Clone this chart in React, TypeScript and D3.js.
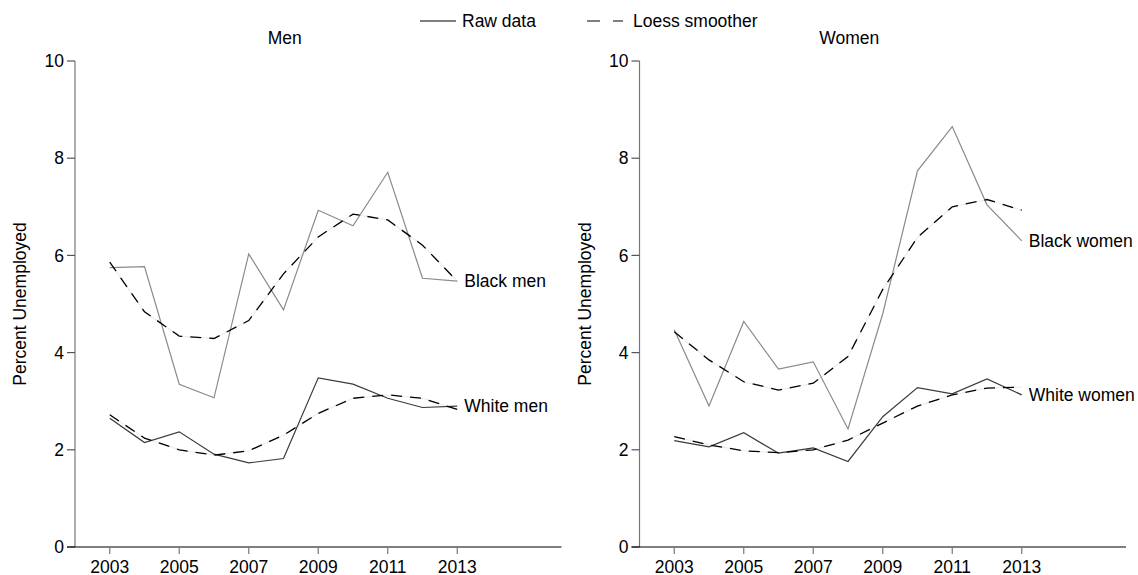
import React, { useEffect, useRef } from 'react';
import * as d3 from 'd3';

// values
const years = [2003, 2004, 2005, 2006, 2007, 2008, 2009, 2010, 2011, 2012, 2013];
const yearTicks = [2003, 2005, 2007, 2009, 2011, 2013];
const pctTicks = [0, 2, 4, 6, 8, 10];

const blackMenRaw = [5.75, 5.77, 3.35, 3.07, 6.03, 4.88, 6.93, 6.61, 7.71, 5.53, 5.47];
const blackMenLoess = [5.86, 4.84, 4.34, 4.29, 4.66, 5.62, 6.38, 6.85, 6.73, 6.21, 5.47];
const whiteMenRaw = [2.65, 2.15, 2.37, 1.91, 1.73, 1.82, 3.48, 3.35, 3.06, 2.87, 2.9];
const whiteMenLoess = [2.72, 2.24, 2.0, 1.89, 1.98, 2.3, 2.75, 3.06, 3.13, 3.06, 2.83];

const blackWomenRaw = [4.47, 2.9, 4.64, 3.66, 3.81, 2.43, 4.8, 7.74, 8.65, 7.04, 6.3];
const blackWomenLoess = [4.43, 3.85, 3.4, 3.23, 3.37, 3.92, 5.3, 6.37, 7.0, 7.15, 6.93];
const whiteWomenRaw = [2.19, 2.06, 2.35, 1.93, 2.04, 1.76, 2.68, 3.28, 3.15, 3.46, 3.13];
const whiteWomenLoess = [2.27, 2.1, 1.98, 1.94, 2.0, 2.2, 2.55, 2.9, 3.13, 3.27, 3.29];

const FONT = '"Liberation Sans", Arial, sans-serif';
const FS = 17.5;

export default function App() {
  const ref = useRef<SVGSVGElement>(null);

  useEffect(() => {
    document.body.style.margin = '0';
    const svg = d3.select(ref.current);
    svg.selectAll('*').remove();

    // left = where the y axis sits, the subgraph starts 75px to the left of it
    const drawPanel = (left: number, title: string, series: any[]) => {
      const x = d3.scaleLinear().domain([2002, 2016]).range([left, left + 486.5]);
      const y = d3.scaleLinear().domain([0, 10]).range([547, 61]);
      const g = svg.append('g');

      // y axis (grey)
      g.append('line')
        .attr('x1', x(2002)).attr('x2', x(2002))
        .attr('y1', y(0)).attr('y2', y(10))
        .attr('stroke', '#777').attr('stroke-width', 1.2);
      pctTicks.forEach((t) => {
        g.append('line')
          .attr('x1', x(2002) - 8).attr('x2', x(2002))
          .attr('y1', y(t)).attr('y2', y(t))
          .attr('stroke', '#555').attr('stroke-width', 1.2);
        g.append('text')
          .attr('x', x(2002) - 11).attr('y', y(t))
          .attr('dy', '0.35em').attr('text-anchor', 'end')
          .text(t);
      });

      // x axis (black)
      g.append('line')
        .attr('x1', x(2002) - 8).attr('x2', x(2016))
        .attr('y1', y(0)).attr('y2', y(0))
        .attr('stroke', '#000').attr('stroke-width', 1.2);
      yearTicks.forEach((t) => {
        g.append('line')
          .attr('x1', x(t)).attr('x2', x(t))
          .attr('y1', y(0)).attr('y2', y(0) + 7)
          .attr('stroke', '#777').attr('stroke-width', 1.2);
        g.append('text')
          .attr('x', x(t)).attr('y', 572.5)
          .attr('text-anchor', 'middle')
          .text(t);
      });

      g.append('text')
        .attr('transform', 'translate(' + (x(2002) - 55) + ',' + y(5) + ') rotate(-90)')
        .attr('text-anchor', 'middle').attr('dy', '0.35em')
        .text('Percent Unemployed');

      // subtitle is centred over the whole subgraph, not just the plot area
      g.append('text')
        .attr('x', (x(2002) - 75 + x(2016)) / 2 + 4).attr('y', 44)
        .attr('text-anchor', 'middle')
        .text(title);

      const line = d3.line<number>()
        .x((d, i) => x(years[i]))
        .y((d) => y(d));

      series.forEach((s) => {
        g.append('path')
          .attr('d', line(s.loess))
          .attr('fill', 'none').attr('stroke', '#ececec').attr('stroke-width', 1.2);
        g.append('path')
          .attr('d', line(s.raw))
          .attr('fill', 'none').attr('stroke', s.color).attr('stroke-width', 1.2);
        g.append('path')
          .attr('d', line(s.loess))
          .attr('fill', 'none').attr('stroke', '#000').attr('stroke-width', 1.3)
          .attr('stroke-dasharray', '11,8');
        g.append('text')
          .attr('x', x(2013) + 7).attr('y', y(s.raw[s.raw.length - 1]))
          .attr('dy', '0.35em')
          .text(s.label);
      });
    };

    svg.attr('font-family', FONT).attr('font-size', FS).attr('fill', '#000');

    drawPanel(75, 'Men', [
      { label: 'Black men', raw: blackMenRaw, loess: blackMenLoess, color: '#8a8a8a' },
      { label: 'White men', raw: whiteMenRaw, loess: whiteMenLoess, color: '#3a3a3a' },
    ]);
    drawPanel(639.5, 'Women', [
      { label: 'Black women', raw: blackWomenRaw, loess: blackWomenLoess, color: '#8a8a8a' },
      { label: 'White women', raw: whiteWomenRaw, loess: whiteWomenLoess, color: '#3a3a3a' },
    ]);

    // legend
    const le = svg.append('g');
    le.append('line')
      .attr('x1', 420).attr('x2', 456).attr('y1', 21).attr('y2', 21)
      .attr('stroke', '#000').attr('stroke-width', 1.2);
    le.append('text').attr('x', 462).attr('y', 21).attr('dy', '0.35em').text('Raw data');
    le.append('line')
      .attr('x1', 587).attr('x2', 623).attr('y1', 21).attr('y2', 21)
      .attr('stroke', '#000').attr('stroke-width', 1.2)
      .attr('stroke-dasharray', '13,13');
    le.append('text').attr('x', 633).attr('y', 21).attr('dy', '0.35em').text('Loess smoother');
  }, []);

  return <svg ref={ref} width={1138} height={575} style={{ display: 'block' }} />;
}
